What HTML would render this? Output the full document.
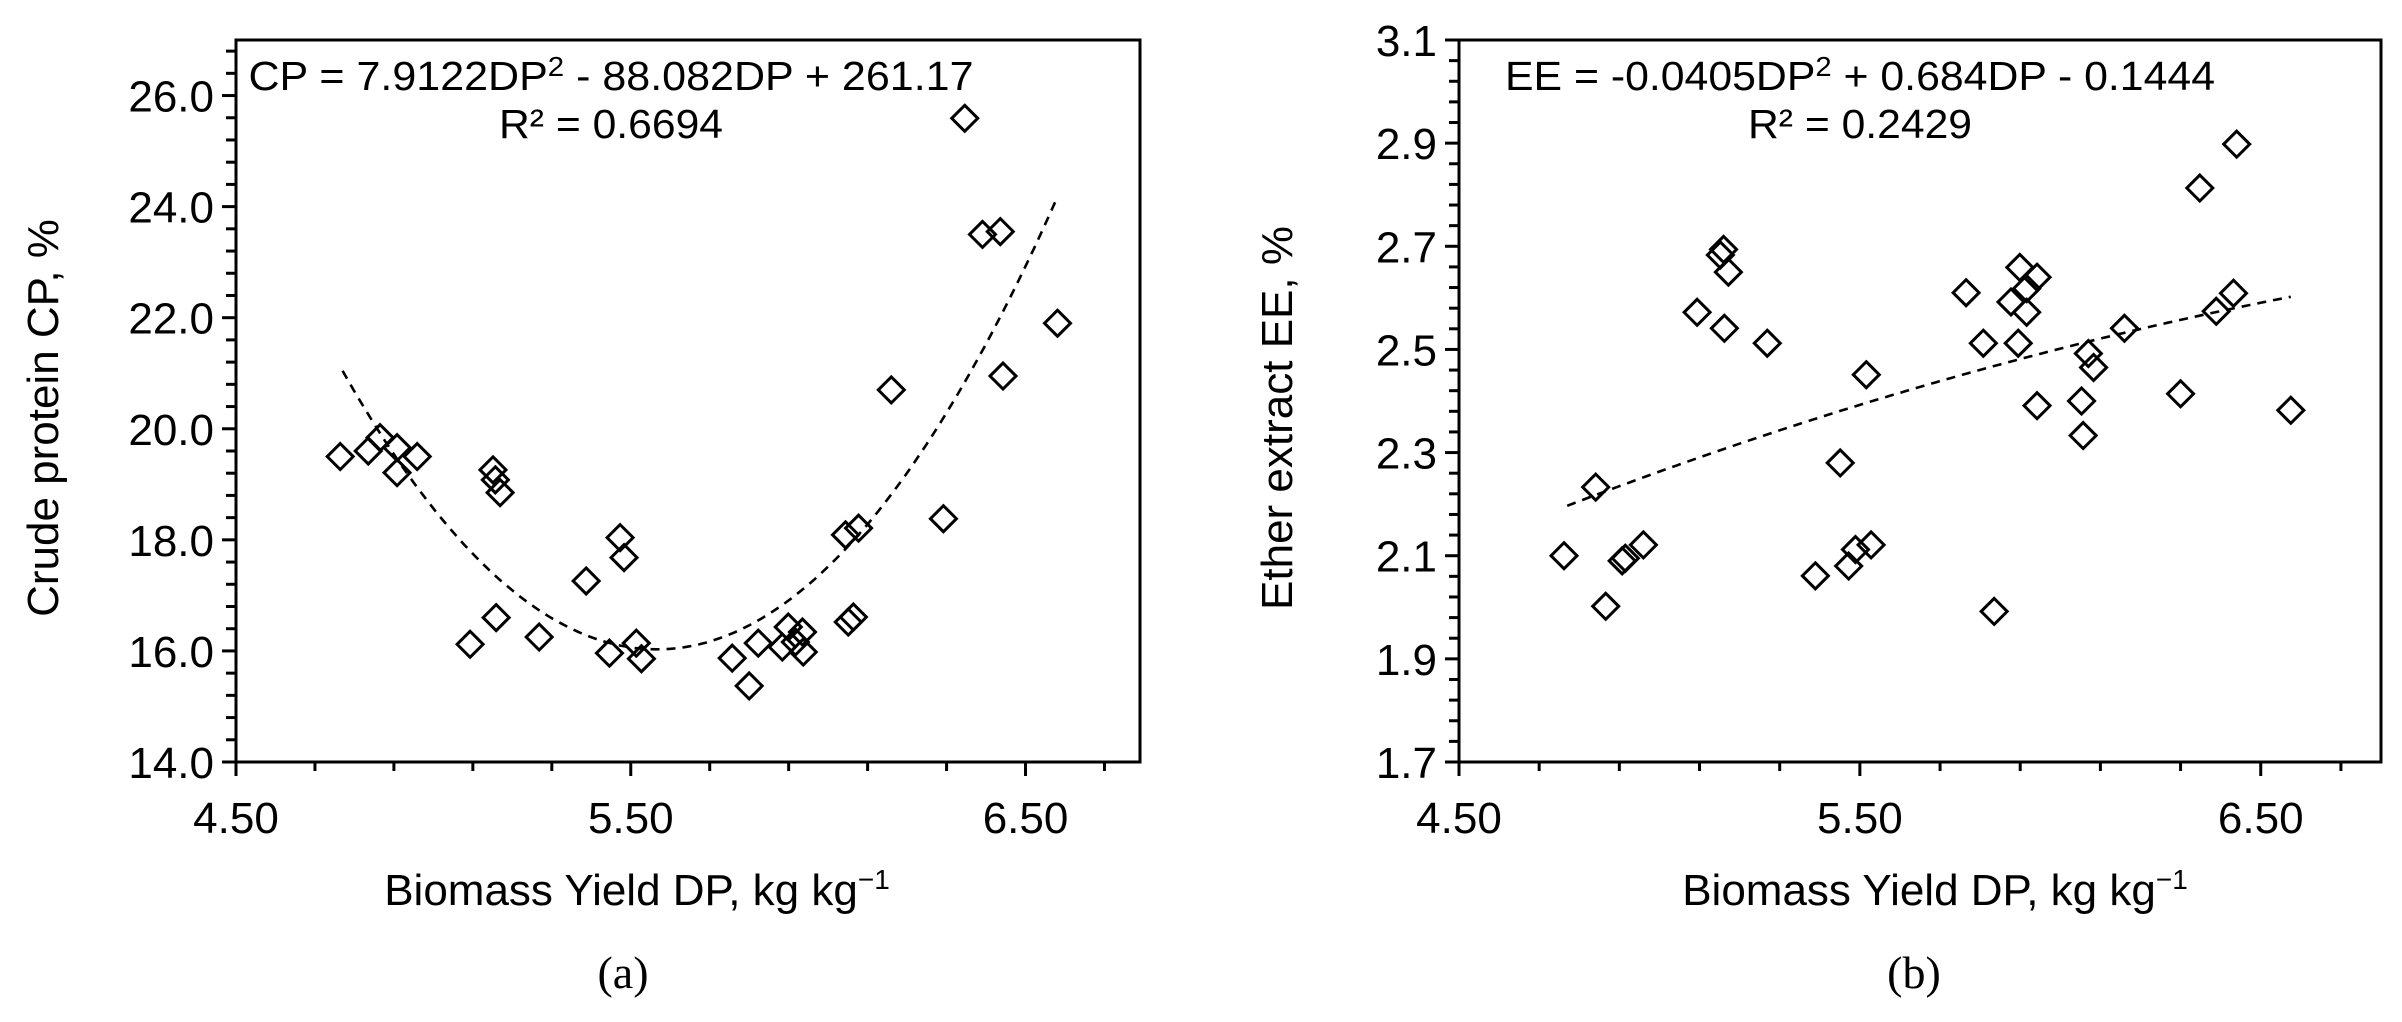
<!DOCTYPE html>
<html><head><meta charset="utf-8"><style>
html,body{margin:0;padding:0;background:#fff}
svg{display:block}
text{font-family:"Liberation Sans",Arial,sans-serif;fill:#000}
</style></head><body>
<svg id="fig" width="2402" height="1022" viewBox="0 0 2402 1022" xmlns="http://www.w3.org/2000/svg"></svg>
<script>
// ---- Chart (a) data ----
const cpX = [4.764,4.835,4.865,4.908,4.908,4.959,5.151,5.157,5.169,5.473,5.483,5.387,5.159,5.093,5.268,5.446,5.514,5.527,5.757,5.800,5.823,5.899,5.935,5.884,5.917,5.937,6.051,6.064,6.044,6.077,6.160,6.292,6.443,6.581,6.346,6.391,6.436];
const cpY = [19.50,19.60,19.84,19.66,19.21,19.50,19.26,19.08,18.85,18.04,17.68,17.26,16.60,16.12,16.25,15.96,16.14,15.86,15.87,15.37,16.14,16.43,16.34,16.07,16.16,15.98,16.52,16.61,18.09,18.21,20.70,18.38,20.95,21.90,25.59,23.50,23.55];
const cpCoef = [7.9122,-88.082,261.17];
const cpYTicks = ["14.0","16.0","18.0","20.0","22.0","24.0","26.0"];
// ---- Chart (b) data ----
const eeX = [5.160,5.152,5.172,5.094,5.162,5.269,5.516,5.451,4.841,4.762,4.907,4.915,4.960,5.389,5.472,5.489,5.528,4.866,5.835,6.440,6.348,5.765,5.899,5.942,5.916,5.877,5.916,5.808,5.895,6.160,6.432,6.389,6.070,6.083,6.300,6.575,5.942,6.053,6.057];
const eeY = [2.694,2.683,2.650,2.572,2.541,2.512,2.451,2.280,2.233,2.100,2.090,2.095,2.121,2.061,2.080,2.112,2.121,2.002,1.992,2.898,2.813,2.610,2.659,2.640,2.618,2.592,2.572,2.512,2.512,2.541,2.609,2.574,2.492,2.465,2.414,2.382,2.391,2.400,2.333];
const eeCoef = [-0.0405,0.684,-0.1444];
const eeYTicks = ["1.7","1.9","2.1","2.3","2.5","2.7","2.9","3.1"];
const xTicks = ["4.50","5.50","6.50"];
const fitRange = [4.77,6.575];

const NS="http://www.w3.org/2000/svg";
const svg=document.getElementById('fig');
function mk(tag,attrs,parent){const e=document.createElementNS(NS,tag);for(const k in attrs)e.setAttribute(k,attrs[k]);(parent||svg).appendChild(e);return e;}

function chart(o){
  const g=mk('g',{});
  
  
  const sx=v=>o.L+(v-o.xmin)/(o.xmax-o.xmin)*(o.R-o.L);
  const sy=v=>o.B-(v-o.ymin)/(o.ymax-o.ymin)*(o.B-o.T);
  const fr=mk('rect',{x:o.L,y:o.T,width:o.R-o.L,height:o.B-o.T,fill:'none',stroke:'#000','stroke-width':3},g);
  
  
  const nY=Math.floor((o.ymax-o.ymin)/o.yMinor+1e-6);
  for(let i=0;i<=nY;i++){const v=o.ymin+i*o.yMinor;const y=sy(v);
    const isMaj=Math.abs(((v-o.ymin)/o.yMajor)-Math.round((v-o.ymin)/o.yMajor))<1e-6;
    const t=mk('line',{x1:o.L-(isMaj?14:10),x2:o.L,y1:y,y2:y,stroke:'#000','stroke-width':3},g);
    
    
  }
  o.yTicks.forEach((s,i)=>{const v=o.ymin+i*o.yMajor;
    const t=mk('text',{x:o.L-22,y:sy(v)+16,'text-anchor':'end','font-size':44},g);t.textContent=s;
    
    
  });
  for(let i=0;i<=11;i++){const v=4.5+i*0.2;if(v>o.xmax-0.01)break;const x=sx(v);
    const isMaj=Math.abs(((v-4.5)/1)-Math.round(v-4.5))<1e-6;
    const t=mk('line',{x1:x,x2:x,y1:o.B,y2:o.B+(isMaj?14:9),stroke:'#000','stroke-width':3},g);
    
    
  }
  xTicks.forEach(s=>{const v=parseFloat(s);
    const t=mk('text',{x:sx(v),y:833,'text-anchor':'middle','font-size':44},g);t.textContent=s;
    
    
  });
  let d='';
  for(let i=0;i<=100;i++){const v=fitRange[0]+(fitRange[1]-fitRange[0])*i/100;const yv=o.coef[0]*v*v+o.coef[1]*v+o.coef[2];d+=(i?'L':'M')+sx(v).toFixed(1)+' '+sy(yv).toFixed(1);}
  const tl=mk('path',{d:d,fill:'none',stroke:'#000','stroke-width':2.6,'stroke-dasharray':'9 7'},g);
  
  
  o.xs.forEach((xv,i)=>{const cx=sx(xv),cy=sy(o.ys[i]);const r=13;
    const p=mk('path',{d:`M${cx} ${cy-r}L${cx+r} ${cy}L${cx} ${cy+r}L${cx-r} ${cy}Z`,fill:'none',stroke:'#000','stroke-width':3},g);
    
    
  });
  const eq=mk('text',{x:o.eqX-o.eqW/2,y:90,'font-size':41,textLength:o.eqW,lengthAdjust:'spacingAndGlyphs'},g);
  
  
  eq.innerHTML=o.eq;
  const r2=mk('text',{x:o.eqX-112,y:138,'font-size':41,textLength:224,lengthAdjust:'spacingAndGlyphs'},g);
  r2.textContent=o.r2;
  
  
  const xt=mk('text',{x:o.xtX,y:905,'text-anchor':'middle','font-size':44},g);
  xt.innerHTML='Biomass Yield DP, kg kg<tspan font-size="28" dy="-16">−1</tspan>';
  
  
  const yt=mk('text',{x:0,y:0,'text-anchor':'middle','font-size':44,transform:`translate(${o.ytX},418) rotate(-90)`},g);
  yt.textContent=o.ytitle;
  
  
  const pl=mk('text',{x:o.plX,y:988,'text-anchor':'middle','font-size':46,style:'font-family:"Liberation Serif",serif'},g);
  pl.textContent=o.panel;
  
  
}

chart({name:'chart-crude-protein',L:236,R:1140,T:40,B:762,xmin:4.5,xmax:6.79,ymin:14,ymax:27,yMinor:0.4,yMajor:2,yTicks:cpYTicks,
  xs:cpX,ys:cpY,coef:cpCoef,eqX:611,eqW:725,eq:'CP = 7.9122DP<tspan font-size="28" dy="-14">2</tspan><tspan dy="14"> - 88.082DP + 261.17</tspan>',r2:'R² = 0.6694',
  xtX:637,ytX:58,ytitle:'Crude protein CP, %',plX:623,panel:'(a)'});
chart({name:'chart-ether-extract',L:1459,R:2381,T:40,B:762,xmin:4.5,xmax:6.8,ymin:1.7,ymax:3.1,yMinor:0.04,yMajor:0.2,yTicks:eeYTicks,
  xs:eeX,ys:eeY,coef:eeCoef,eqX:1860,eqW:710,eq:'EE = -0.0405DP<tspan font-size="28" dy="-14">2</tspan><tspan dy="14"> + 0.684DP - 0.1444</tspan>',r2:'R² = 0.2429',
  xtX:1935,ytX:1292,ytitle:'Ether extract EE, %',plX:1914,panel:'(b)'});
</script>
</body></html>
